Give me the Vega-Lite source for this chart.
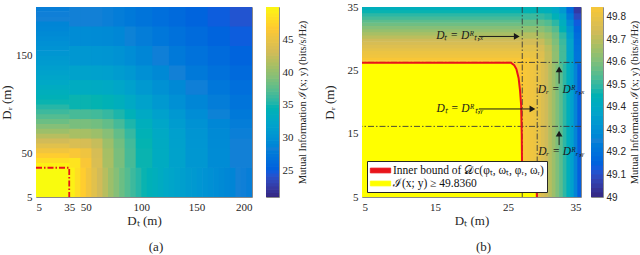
{
"$schema": "https://vega.github.io/schema/vega-lite/v6.json",
"padding": {"left": 0, "top": 0, "right": 0, "bottom": 0},
"background": "white",
"spacing": 14,
"resolve": {"scale": {"fill": "independent", "color": "independent"}, "legend": {"fill": "independent", "color": "independent"}},
"config": {
  "font": "Liberation Serif",
  "view": {"stroke": "#8a8a8a", "strokeWidth": 1},
  "axis": {"grid": false, "domain": false, "ticks": false, "labelOverlap": false, "labelFont": "Liberation Serif", "labelFontSize": 11, "labelColor": "#262626", "titleFont": "Liberation Serif", "titleFontSize": 13, "titleFontWeight": "normal", "titleColor": "#262626", "labelPadding": 4},
  "axisX": {"titlePadding": 2},
  "axisY": {"titlePadding": 2},
  "title": {"font": "Liberation Serif", "fontSize": 13, "fontWeight": "normal", "color": "#262626"}
},
"datasets": {
  "heatA": [
    {"x":5,"x2":35,"y":5,"y2":35,"v":50},
    {"x":35,"x2":40,"y":5,"y2":35,"v":49.3},{"x":40,"x2":45,"y":5,"y2":35,"v":48.0},{"x":45,"x2":50,"y":5,"y2":35,"v":46.7},{"x":50,"x2":55,"y":5,"y2":35,"v":45.4},{"x":55,"x2":60,"y":5,"y2":35,"v":44.1},{"x":60,"x2":65,"y":5,"y2":35,"v":42.8},{"x":65,"x2":70,"y":5,"y2":35,"v":41.5},{"x":70,"x2":75,"y":5,"y2":35,"v":40.2},{"x":75,"x2":80,"y":5,"y2":35,"v":39.0},{"x":80,"x2":85,"y":5,"y2":35,"v":37.9},{"x":85,"x2":90,"y":5,"y2":35,"v":36.9},{"x":90,"x2":95,"y":5,"y2":35,"v":36.0},{"x":95,"x2":100,"y":5,"y2":35,"v":35.2},{"x":100,"x2":105,"y":5,"y2":35,"v":34.5},{"x":105,"x2":110,"y":5,"y2":35,"v":33.9},{"x":110,"x2":115,"y":5,"y2":35,"v":33.4},{"x":115,"x2":120,"y":5,"y2":35,"v":32.9},{"x":120,"x2":125,"y":5,"y2":35,"v":32.4},{"x":125,"x2":130,"y":5,"y2":35,"v":32.0},{"x":130,"x2":135,"y":5,"y2":35,"v":31.6},{"x":135,"x2":140,"y":5,"y2":35,"v":31.2},{"x":140,"x2":145,"y":5,"y2":35,"v":30.8},{"x":145,"x2":150,"y":5,"y2":35,"v":30.5},{"x":150,"x2":155,"y":5,"y2":35,"v":30.2},{"x":155,"x2":160,"y":5,"y2":35,"v":29.9},{"x":160,"x2":165,"y":5,"y2":35,"v":29.6},{"x":165,"x2":170,"y":5,"y2":35,"v":29.3},{"x":170,"x2":175,"y":5,"y2":35,"v":29.0},{"x":175,"x2":180,"y":5,"y2":35,"v":28.7},{"x":180,"x2":185,"y":5,"y2":35,"v":28.5},{"x":185,"x2":190,"y":5,"y2":35,"v":28.2},{"x":190,"x2":195,"y":5,"y2":35,"v":28.0},{"x":195,"x2":200,"y":5,"y2":35,"v":27.8},
    {"y":35,"y2":40,"x":5,"x2":35,"v":49.3},{"y":40,"y2":45,"x":5,"x2":35,"v":48.0},{"y":45,"y2":50,"x":5,"x2":35,"v":46.7},{"y":50,"y2":55,"x":5,"x2":35,"v":45.4},{"y":55,"y2":60,"x":5,"x2":35,"v":44.1},{"y":60,"y2":65,"x":5,"x2":35,"v":42.8},{"y":65,"y2":70,"x":5,"x2":35,"v":41.5},{"y":70,"y2":75,"x":5,"x2":35,"v":40.2},{"y":75,"y2":80,"x":5,"x2":35,"v":39.0},{"y":80,"y2":85,"x":5,"x2":35,"v":37.9},{"y":85,"y2":90,"x":5,"x2":35,"v":36.9},{"y":90,"y2":95,"x":5,"x2":35,"v":36.0},{"y":95,"y2":100,"x":5,"x2":35,"v":35.2},{"y":100,"y2":105,"x":5,"x2":35,"v":34.5},{"y":105,"y2":110,"x":5,"x2":35,"v":33.9},{"y":110,"y2":115,"x":5,"x2":35,"v":33.4},{"y":115,"y2":120,"x":5,"x2":35,"v":32.9},{"y":120,"y2":125,"x":5,"x2":35,"v":32.4},{"y":125,"y2":130,"x":5,"x2":35,"v":32.0},{"y":130,"y2":135,"x":5,"x2":35,"v":31.6},{"y":135,"y2":140,"x":5,"x2":35,"v":31.2},{"y":140,"y2":145,"x":5,"x2":35,"v":30.8},{"y":145,"y2":150,"x":5,"x2":35,"v":30.5},{"y":150,"y2":155,"x":5,"x2":35,"v":30.2},{"y":155,"y2":160,"x":5,"x2":35,"v":29.9},{"y":160,"y2":165,"x":5,"x2":35,"v":29.6},{"y":165,"y2":170,"x":5,"x2":35,"v":29.3},{"y":170,"y2":175,"x":5,"x2":35,"v":29.0},{"y":175,"y2":180,"x":5,"x2":35,"v":28.7},{"y":180,"y2":185,"x":5,"x2":35,"v":28.5},{"y":185,"y2":190,"x":5,"x2":35,"v":28.2},{"y":190,"y2":195,"x":5,"x2":35,"v":28.0},{"y":195,"y2":200,"x":5,"x2":35,"v":27.8},
    {"y":35,"y2":45,"x":35,"x2":45,"v":48.4},{"y":35,"y2":45,"x":45,"x2":55,"v":46.0},{"y":35,"y2":45,"x":55,"x2":65,"v":43.4},{"y":35,"y2":45,"x":65,"x2":75,"v":40.8},{"y":35,"y2":45,"x":75,"x2":85,"v":38.5},{"y":35,"y2":45,"x":85,"x2":95,"v":36.4},{"y":35,"y2":45,"x":95,"x2":110,"v":34.5},{"y":35,"y2":45,"x":110,"x2":125,"v":32.9},{"y":35,"y2":45,"x":125,"x2":140,"v":31.6},{"y":35,"y2":45,"x":140,"x2":160,"v":30.3},{"y":35,"y2":45,"x":160,"x2":180,"v":29.2},{"y":35,"y2":45,"x":180,"x2":200,"v":28.1},
    {"y":45,"y2":55,"x":35,"x2":45,"v":46.0},{"y":45,"y2":55,"x":45,"x2":55,"v":45.2},{"y":45,"y2":55,"x":55,"x2":65,"v":43.2},{"y":45,"y2":55,"x":65,"x2":75,"v":40.7},{"y":45,"y2":55,"x":75,"x2":85,"v":38.5},{"y":45,"y2":55,"x":85,"x2":95,"v":36.4},{"y":45,"y2":55,"x":95,"x2":110,"v":34.5},{"y":45,"y2":55,"x":110,"x2":125,"v":32.9},{"y":45,"y2":55,"x":125,"x2":140,"v":31.6},{"y":45,"y2":55,"x":140,"x2":160,"v":30.3},{"y":45,"y2":55,"x":160,"x2":180,"v":29.2},{"y":45,"y2":55,"x":180,"x2":200,"v":28.1},
    {"y":55,"y2":65,"x":35,"x2":45,"v":43.4},{"y":55,"y2":65,"x":45,"x2":55,"v":43.2},{"y":55,"y2":65,"x":55,"x2":65,"v":42.2},{"y":55,"y2":65,"x":65,"x2":75,"v":40.2},{"y":55,"y2":65,"x":75,"x2":85,"v":38.2},{"y":55,"y2":65,"x":85,"x2":95,"v":36.2},{"y":55,"y2":65,"x":95,"x2":110,"v":34.4},{"y":55,"y2":65,"x":110,"x2":125,"v":32.8},{"y":55,"y2":65,"x":125,"x2":140,"v":31.5},{"y":55,"y2":65,"x":140,"x2":160,"v":30.2},{"y":55,"y2":65,"x":160,"x2":180,"v":29.1},{"y":55,"y2":65,"x":180,"x2":200,"v":28.1},
    {"y":65,"y2":75,"x":35,"x2":45,"v":40.8},{"y":65,"y2":75,"x":45,"x2":55,"v":40.7},{"y":65,"y2":75,"x":55,"x2":65,"v":40.2},{"y":65,"y2":75,"x":65,"x2":75,"v":39.1},{"y":65,"y2":75,"x":75,"x2":85,"v":37.5},{"y":65,"y2":75,"x":85,"x2":95,"v":35.7},{"y":65,"y2":75,"x":95,"x2":110,"v":34.0},{"y":65,"y2":75,"x":110,"x2":125,"v":32.6},{"y":65,"y2":75,"x":125,"x2":140,"v":31.3},{"y":65,"y2":75,"x":140,"x2":160,"v":30.1},{"y":65,"y2":75,"x":160,"x2":180,"v":29.0},{"y":65,"y2":75,"x":180,"x2":200,"v":27.9},
    {"y":75,"y2":85,"x":35,"x2":45,"v":38.5},{"y":75,"y2":85,"x":45,"x2":55,"v":38.5},{"y":75,"y2":85,"x":55,"x2":65,"v":38.2},{"y":75,"y2":85,"x":65,"x2":75,"v":37.5},{"y":75,"y2":85,"x":75,"x2":85,"v":36.3},{"y":75,"y2":85,"x":85,"x2":95,"v":34.9},{"y":75,"y2":85,"x":95,"x2":110,"v":33.4},{"y":75,"y2":85,"x":110,"x2":125,"v":32.1},{"y":75,"y2":85,"x":125,"x2":140,"v":30.9},{"y":75,"y2":85,"x":140,"x2":160,"v":29.8},{"y":75,"y2":85,"x":160,"x2":180,"v":28.7},{"y":75,"y2":85,"x":180,"x2":200,"v":27.7},
    {"y":85,"y2":95,"x":35,"x2":45,"v":36.4},{"y":85,"y2":95,"x":45,"x2":55,"v":36.4},{"y":85,"y2":95,"x":55,"x2":65,"v":36.2},{"y":85,"y2":95,"x":65,"x2":75,"v":35.7},{"y":85,"y2":95,"x":75,"x2":85,"v":34.9},{"y":85,"y2":95,"x":85,"x2":95,"v":33.8},{"y":85,"y2":95,"x":95,"x2":110,"v":32.6},{"y":85,"y2":95,"x":110,"x2":125,"v":31.4},{"y":85,"y2":95,"x":125,"x2":140,"v":30.4},{"y":85,"y2":95,"x":140,"x2":160,"v":29.3},{"y":85,"y2":95,"x":160,"x2":180,"v":28.3},{"y":85,"y2":95,"x":180,"x2":200,"v":27.3},
    {"y":95,"y2":110,"x":35,"x2":45,"v":34.5},{"y":95,"y2":110,"x":45,"x2":55,"v":34.5},{"y":95,"y2":110,"x":55,"x2":65,"v":34.4},{"y":95,"y2":110,"x":65,"x2":75,"v":34.0},{"y":95,"y2":110,"x":75,"x2":85,"v":33.4},{"y":95,"y2":110,"x":85,"x2":95,"v":32.6},{"y":95,"y2":110,"x":95,"x2":110,"v":31.6},{"y":95,"y2":110,"x":110,"x2":125,"v":30.5},{"y":95,"y2":110,"x":125,"x2":140,"v":29.6},{"y":95,"y2":110,"x":140,"x2":160,"v":28.6},{"y":95,"y2":110,"x":160,"x2":180,"v":27.7},{"y":95,"y2":110,"x":180,"x2":200,"v":26.8},
    {"y":110,"y2":125,"x":35,"x2":45,"v":32.9},{"y":110,"y2":125,"x":45,"x2":55,"v":32.9},{"y":110,"y2":125,"x":55,"x2":65,"v":32.8},{"y":110,"y2":125,"x":65,"x2":75,"v":32.6},{"y":110,"y2":125,"x":75,"x2":85,"v":32.1},{"y":110,"y2":125,"x":85,"x2":95,"v":31.4},{"y":110,"y2":125,"x":95,"x2":110,"v":30.5},{"y":110,"y2":125,"x":110,"x2":125,"v":29.7},{"y":110,"y2":125,"x":125,"x2":140,"v":28.9},{"y":110,"y2":125,"x":140,"x2":160,"v":28.0},{"y":110,"y2":125,"x":160,"x2":180,"v":27.1},{"y":110,"y2":125,"x":180,"x2":200,"v":26.3},
    {"y":125,"y2":140,"x":35,"x2":45,"v":31.6},{"y":125,"y2":140,"x":45,"x2":55,"v":31.6},{"y":125,"y2":140,"x":55,"x2":65,"v":31.5},{"y":125,"y2":140,"x":65,"x2":75,"v":31.3},{"y":125,"y2":140,"x":75,"x2":85,"v":30.9},{"y":125,"y2":140,"x":85,"x2":95,"v":30.4},{"y":125,"y2":140,"x":95,"x2":110,"v":29.6},{"y":125,"y2":140,"x":110,"x2":125,"v":28.9},{"y":125,"y2":140,"x":125,"x2":140,"v":28.1},{"y":125,"y2":140,"x":140,"x2":160,"v":27.3},{"y":125,"y2":140,"x":160,"x2":180,"v":26.5},{"y":125,"y2":140,"x":180,"x2":200,"v":25.8},
    {"y":140,"y2":160,"x":35,"x2":45,"v":30.3},{"y":140,"y2":160,"x":45,"x2":55,"v":30.3},{"y":140,"y2":160,"x":55,"x2":65,"v":30.2},{"y":140,"y2":160,"x":65,"x2":75,"v":30.1},{"y":140,"y2":160,"x":75,"x2":85,"v":29.8},{"y":140,"y2":160,"x":85,"x2":95,"v":29.3},{"y":140,"y2":160,"x":95,"x2":110,"v":28.6},{"y":140,"y2":160,"x":110,"x2":125,"v":28.0},{"y":140,"y2":160,"x":125,"x2":140,"v":27.3},{"y":140,"y2":160,"x":140,"x2":160,"v":26.6},{"y":140,"y2":160,"x":160,"x2":180,"v":25.9},{"y":140,"y2":160,"x":180,"x2":200,"v":25.2},
    {"y":160,"y2":180,"x":35,"x2":45,"v":29.2},{"y":160,"y2":180,"x":45,"x2":55,"v":29.2},{"y":160,"y2":180,"x":55,"x2":65,"v":29.1},{"y":160,"y2":180,"x":65,"x2":75,"v":29.0},{"y":160,"y2":180,"x":75,"x2":85,"v":28.7},{"y":160,"y2":180,"x":85,"x2":95,"v":28.3},{"y":160,"y2":180,"x":95,"x2":110,"v":27.7},{"y":160,"y2":180,"x":110,"x2":125,"v":27.1},{"y":160,"y2":180,"x":125,"x2":140,"v":26.5},{"y":160,"y2":180,"x":140,"x2":160,"v":25.9},{"y":160,"y2":180,"x":160,"x2":180,"v":25.2},{"y":160,"y2":180,"x":180,"x2":200,"v":24.6},
    {"y":180,"y2":200,"x":35,"x2":45,"v":28.1},{"y":180,"y2":200,"x":45,"x2":55,"v":28.1},{"y":180,"y2":200,"x":55,"x2":65,"v":28.1},{"y":180,"y2":200,"x":65,"x2":75,"v":27.9},{"y":180,"y2":200,"x":75,"x2":85,"v":27.7},{"y":180,"y2":200,"x":85,"x2":95,"v":27.3},{"y":180,"y2":200,"x":95,"x2":110,"v":26.8},{"y":180,"y2":200,"x":110,"x2":125,"v":26.3},{"y":180,"y2":200,"x":125,"x2":140,"v":25.8},{"y":180,"y2":200,"x":140,"x2":160,"v":25.2},{"y":180,"y2":200,"x":160,"x2":180,"v":24.6},{"y":180,"y2":200,"x":180,"x2":200,"v":24.0}
  ],
  "boxA": [{"i":0,"x":5,"y":35},{"i":1,"x":35,"y":35},{"i":2,"x":35,"y":5}],
  "barA": [{"v":20.5,"w":21},{"v":21,"w":21.5},{"v":21.5,"w":22},{"v":22,"w":22.5},{"v":22.5,"w":23},{"v":23,"w":23.5},{"v":23.5,"w":24},{"v":24,"w":24.5},{"v":24.5,"w":25},{"v":25,"w":25.5},{"v":25.5,"w":26},{"v":26,"w":26.5},{"v":26.5,"w":27},{"v":27,"w":27.5},{"v":27.5,"w":28},{"v":28,"w":28.5},{"v":28.5,"w":29},{"v":29,"w":29.5},{"v":29.5,"w":30},{"v":30,"w":30.5},{"v":30.5,"w":31},{"v":31,"w":31.5},{"v":31.5,"w":32},{"v":32,"w":32.5},{"v":32.5,"w":33},{"v":33,"w":33.5},{"v":33.5,"w":34},{"v":34,"w":34.5},{"v":34.5,"w":35},{"v":35,"w":35.5},{"v":35.5,"w":36},{"v":36,"w":36.5},{"v":36.5,"w":37},{"v":37,"w":37.5},{"v":37.5,"w":38},{"v":38,"w":38.5},{"v":38.5,"w":39},{"v":39,"w":39.5},{"v":39.5,"w":40},{"v":40,"w":40.5},{"v":40.5,"w":41},{"v":41,"w":41.5},{"v":41.5,"w":42},{"v":42,"w":42.5},{"v":42.5,"w":43},{"v":43,"w":43.5},{"v":43.5,"w":44},{"v":44,"w":44.5},{"v":44.5,"w":45},{"v":45,"w":45.5},{"v":45.5,"w":46},{"v":46,"w":46.5},{"v":46.5,"w":47},{"v":47,"w":47.5},{"v":47.5,"w":48},{"v":48,"w":48.5},{"v":48.5,"w":49},{"v":49,"w":49.5},{"v":49.5,"w":50}],
  "barB": [{"v":49.00,"w":49.02},{"v":49.02,"w":49.04},{"v":49.04,"w":49.06},{"v":49.06,"w":49.08},{"v":49.08,"w":49.10},{"v":49.10,"w":49.12},{"v":49.12,"w":49.14},{"v":49.14,"w":49.16},{"v":49.16,"w":49.18},{"v":49.18,"w":49.20},{"v":49.20,"w":49.22},{"v":49.22,"w":49.24},{"v":49.24,"w":49.26},{"v":49.26,"w":49.28},{"v":49.28,"w":49.30},{"v":49.30,"w":49.32},{"v":49.32,"w":49.34},{"v":49.34,"w":49.36},{"v":49.36,"w":49.38},{"v":49.38,"w":49.40},{"v":49.40,"w":49.42},{"v":49.42,"w":49.44},{"v":49.44,"w":49.46},{"v":49.46,"w":49.48},{"v":49.48,"w":49.50},{"v":49.50,"w":49.52},{"v":49.52,"w":49.54},{"v":49.54,"w":49.56},{"v":49.56,"w":49.58},{"v":49.58,"w":49.60},{"v":49.60,"w":49.62},{"v":49.62,"w":49.64},{"v":49.64,"w":49.66},{"v":49.66,"w":49.68},{"v":49.68,"w":49.70},{"v":49.70,"w":49.72},{"v":49.72,"w":49.74},{"v":49.74,"w":49.76},{"v":49.76,"w":49.78},{"v":49.78,"w":49.80},{"v":49.80,"w":49.82},{"v":49.82,"w":49.844}],
  "heatB": [
    {"x":5,"x2":27,"y":5,"y2":26,"v":49.844},
    {"x":5,"x2":27,"y":26,"y2":26.5,"v":49.84},{"x":5,"x2":27,"y":26.5,"y2":27,"v":49.83},{"x":5,"x2":27,"y":27,"y2":27.5,"v":49.81},{"x":5,"x2":27,"y":27.5,"y2":28,"v":49.80},{"x":5,"x2":27,"y":28,"y2":28.5,"v":49.78},{"x":5,"x2":27,"y":28.5,"y2":29,"v":49.76},{"x":5,"x2":27,"y":29,"y2":29.5,"v":49.74},{"x":5,"x2":27,"y":29.5,"y2":30,"v":49.72},{"x":5,"x2":27,"y":30,"y2":30.5,"v":49.69},{"x":5,"x2":27,"y":30.5,"y2":31,"v":49.66},{"x":5,"x2":27,"y":31,"y2":31.5,"v":49.63},{"x":5,"x2":27,"y":31.5,"y2":32,"v":49.60},{"x":5,"x2":27,"y":32,"y2":32.5,"v":49.57},{"x":5,"x2":27,"y":32.5,"y2":33,"v":49.54},{"x":5,"x2":27,"y":33,"y2":33.5,"v":49.51},{"x":5,"x2":27,"y":33.5,"y2":34,"v":49.48},{"x":5,"x2":27,"y":34,"y2":34.5,"v":49.45},{"x":5,"x2":27,"y":34.5,"y2":35,"v":49.42},
    {"y":5,"y2":26,"x":27,"x2":27.5,"v":49.83},{"y":5,"y2":26,"x":27.5,"x2":28,"v":49.82},{"y":5,"y2":26,"x":28,"x2":28.5,"v":49.81},{"y":5,"y2":26,"x":28.5,"x2":29,"v":49.80},{"y":5,"y2":26,"x":29,"x2":29.5,"v":49.78},{"y":5,"y2":26,"x":29.5,"x2":30,"v":49.75},{"y":5,"y2":26,"x":30,"x2":30.5,"v":49.72},{"y":5,"y2":26,"x":30.5,"x2":31,"v":49.68},{"y":5,"y2":26,"x":31,"x2":31.5,"v":49.64},{"y":5,"y2":26,"x":31.5,"x2":32,"v":49.59},{"y":5,"y2":26,"x":32,"x2":32.5,"v":49.54},{"y":5,"y2":26,"x":32.5,"x2":33,"v":49.48},{"y":5,"y2":26,"x":33,"x2":33.5,"v":49.42},{"y":5,"y2":26,"x":33.5,"x2":34,"v":49.35},{"y":5,"y2":26,"x":34,"x2":34.5,"v":49.25},{"y":5,"y2":26,"x":34.5,"x2":35,"v":49.13},
    {"y":26,"y2":27,"x":27,"x2":28,"v":49.83},{"y":26,"y2":27,"x":28,"x2":29,"v":49.81},{"y":26,"y2":27,"x":29,"x2":30,"v":49.77},{"y":26,"y2":27,"x":30,"x2":31,"v":49.70},{"y":26,"y2":27,"x":31,"x2":32,"v":49.62},{"y":26,"y2":27,"x":32,"x2":33,"v":49.51},{"y":26,"y2":27,"x":33,"x2":34,"v":49.37},{"y":26,"y2":27,"x":34,"x2":35,"v":49.20},
    {"y":27,"y2":28,"x":27,"x2":28,"v":49.80},{"y":27,"y2":28,"x":28,"x2":29,"v":49.79},{"y":27,"y2":28,"x":29,"x2":30,"v":49.76},{"y":27,"y2":28,"x":30,"x2":31,"v":49.70},{"y":27,"y2":28,"x":31,"x2":32,"v":49.62},{"y":27,"y2":28,"x":32,"x2":33,"v":49.51},{"y":27,"y2":28,"x":33,"x2":34,"v":49.37},{"y":27,"y2":28,"x":34,"x2":35,"v":49.20},
    {"y":28,"y2":29,"x":27,"x2":28,"v":49.77},{"y":28,"y2":29,"x":28,"x2":29,"v":49.77},{"y":28,"y2":29,"x":29,"x2":30,"v":49.74},{"y":28,"y2":29,"x":30,"x2":31,"v":49.69},{"y":28,"y2":29,"x":31,"x2":32,"v":49.61},{"y":28,"y2":29,"x":32,"x2":33,"v":49.51},{"y":28,"y2":29,"x":33,"x2":34,"v":49.36},{"y":28,"y2":29,"x":34,"x2":35,"v":49.19},
    {"y":29,"y2":30,"x":27,"x2":28,"v":49.73},{"y":29,"y2":30,"x":28,"x2":29,"v":49.73},{"y":29,"y2":30,"x":29,"x2":30,"v":49.71},{"y":29,"y2":30,"x":30,"x2":31,"v":49.66},{"y":29,"y2":30,"x":31,"x2":32,"v":49.59},{"y":29,"y2":30,"x":32,"x2":33,"v":49.50},{"y":29,"y2":30,"x":33,"x2":34,"v":49.36},{"y":29,"y2":30,"x":34,"x2":35,"v":49.18},
    {"y":30,"y2":31,"x":27,"x2":28,"v":49.68},{"y":30,"y2":31,"x":28,"x2":29,"v":49.68},{"y":30,"y2":31,"x":29,"x2":30,"v":49.66},{"y":30,"y2":31,"x":30,"x2":31,"v":49.63},{"y":30,"y2":31,"x":31,"x2":32,"v":49.57},{"y":30,"y2":31,"x":32,"x2":33,"v":49.48},{"y":30,"y2":31,"x":33,"x2":34,"v":49.34},{"y":30,"y2":31,"x":34,"x2":35,"v":49.17},
    {"y":31,"y2":32,"x":27,"x2":28,"v":49.62},{"y":31,"y2":32,"x":28,"x2":29,"v":49.62},{"y":31,"y2":32,"x":29,"x2":30,"v":49.61},{"y":31,"y2":32,"x":30,"x2":31,"v":49.58},{"y":31,"y2":32,"x":31,"x2":32,"v":49.53},{"y":31,"y2":32,"x":32,"x2":33,"v":49.44},{"y":31,"y2":32,"x":33,"x2":34,"v":49.31},{"y":31,"y2":32,"x":34,"x2":35,"v":49.15},
    {"y":32,"y2":33,"x":27,"x2":28,"v":49.56},{"y":32,"y2":33,"x":28,"x2":29,"v":49.56},{"y":32,"y2":33,"x":29,"x2":30,"v":49.55},{"y":32,"y2":33,"x":30,"x2":31,"v":49.53},{"y":32,"y2":33,"x":31,"x2":32,"v":49.48},{"y":32,"y2":33,"x":32,"x2":33,"v":49.41},{"y":32,"y2":33,"x":33,"x2":34,"v":49.27},{"y":32,"y2":33,"x":34,"x2":35,"v":49.12},
    {"y":33,"y2":34,"x":27,"x2":28,"v":49.50},{"y":33,"y2":34,"x":28,"x2":29,"v":49.50},{"y":33,"y2":34,"x":29,"x2":30,"v":49.49},{"y":33,"y2":34,"x":30,"x2":31,"v":49.47},{"y":33,"y2":34,"x":31,"x2":32,"v":49.43},{"y":33,"y2":34,"x":32,"x2":33,"v":49.37},{"y":33,"y2":34,"x":33,"x2":34,"v":49.22},{"y":33,"y2":34,"x":34,"x2":35,"v":49.08},
    {"y":34,"y2":35,"x":27,"x2":28,"v":49.44},{"y":34,"y2":35,"x":28,"x2":29,"v":49.44},{"y":34,"y2":35,"x":29,"x2":30,"v":49.43},{"y":34,"y2":35,"x":30,"x2":31,"v":49.42},{"y":34,"y2":35,"x":31,"x2":32,"v":49.38},{"y":34,"y2":35,"x":32,"x2":33,"v":49.32},{"y":34,"y2":35,"x":33,"x2":34,"v":49.17},{"y":34,"y2":35,"x":34,"x2":35,"v":49.04}
  ],
  "bound": [
    {"i":0,"x":5,"y":26.2},{"i":1,"x":25.4,"y":26.2},{"i":2,"x":25.85,"y":25.8},{"i":3,"x":26.15,"y":25.2},{"i":4,"x":26.45,"y":23.8},{"i":5,"x":26.65,"y":21.8},{"i":6,"x":26.8,"y":19.5},{"i":7,"x":26.88,"y":15.0},{"i":8,"x":26.92,"y":10.3},{"i":9,"x":27.15,"y":9.95},{"i":10,"x":28.3,"y":9.8},{"i":11,"x":28.65,"y":9.4},{"i":12,"x":28.85,"y":8.8},{"i":13,"x":28.93,"y":7.9},{"i":14,"x":28.95,"y":5}
  ],
  "vlines": [{"x":26.95},{"x":29.0}],
  "hlines": [{"y":26.25},{"y":16.15}],
  "shafts": [
    {"x":21.0,"x2":26.2,"y":30.35,"y2":30.35},
    {"x":21.0,"x2":28.35,"y":18.9,"y2":18.9},
    {"x":32.0,"x2":32.0,"y":22.9,"y2":25.15},
    {"x":32.0,"x2":32.0,"y":13.2,"y2":15.0}
  ],
  "heads": [
    {"x":26.2,"y":30.35,"s":"triangle-right"},
    {"x":28.35,"y":18.9,"s":"triangle-right"},
    {"x":32.0,"y":25.15,"s":"triangle-up"},
    {"x":32.0,"y":15.0,"s":"triangle-up"}
  ],
  "notes": [
    {"x":18.4,"y":30.35,"t":"Dₜ = Dᴿₜ,ₓ"},
    {"x":18.4,"y":18.9,"t":"Dₜ = Dᴿₜ,ᵧ"},
    {"x":32.3,"y":21.85,"t":"Dᵣ = Dᴿᵣ,ₓ"},
    {"x":32.3,"y":12.1,"t":"Dᵣ = Dᴿᵣ,ᵧ"}
  ]
},
"hconcat": [
  {
    "title": {"text": "(a)", "orient": "bottom", "anchor": "middle", "offset": 13, "dx": 2},
    "spacing": 14,
    "bounds": "flush",
    "resolve": {"scale": {"color": "independent"}, "legend": {"color": "independent"}},
    "hconcat": [
      {
        "width": 216, "height": 190,
        "layer": [
          {
            "data": {"name": "heatA"},
            "mark": {"type": "rect", "x2Offset": 0.7, "y2Offset": -0.7, "clip": true},
            "encoding": {
              "x": {"field": "x", "type": "quantitative", "scale": {"domain": [5, 200], "nice": false, "zero": false}, "axis": {"values": [5, 35, 50, 100, 150, 200], "labelOverlap": false, "title": "Dₜ (m)"}},
              "x2": {"field": "x2"},
              "y": {"field": "y", "type": "quantitative", "scale": {"domain": [5, 200], "nice": false, "zero": false}, "axis": {"values": [5, 35, 50, 100, 150, 200], "labelOverlap": false, "title": "Dᵣ (m)"}},
              "y2": {"field": "y2"},
              "fill": {
                "field": "v", "type": "quantitative", "legend": null,
                "scale": {"domain": [20.9, 24.5375, 28.175, 31.8125, 35.45, 39.0875, 42.725, 46.3625, 50.0], "range": ["#352a87", "#0f5cdd", "#1481d6", "#06a4ca", "#2eb7a4", "#87bf77", "#d1bb59", "#fec832", "#f9fb0e"]}
              }
            }
          },
          {
            "data": {"name": "boxA"},
            "mark": {"type": "line", "color": "#e8141b", "strokeWidth": 1.8, "strokeDash": [6, 2, 1.5, 2]},
            "encoding": {
              "x": {"field": "x", "type": "quantitative"},
              "y": {"field": "y", "type": "quantitative"},
              "order": {"field": "i", "type": "quantitative"}
            }
          }
        ]
      },
      {
        "width": 13, "height": 190,
        "data": {"name": "barA"},
        "mark": {"type": "rect", "y2Offset": -0.7, "clip": true},
        "encoding": {
          "y": {"field": "v", "type": "quantitative",
            "scale": {"domain": [20.9, 50], "nice": false, "zero": false},
            "axis": {"orient": "right", "values": [25, 30, 35, 40, 45], "labelOverlap": false, "labelPadding": 3, "labelFontSize": 11,
              "title": "Mutual Information ℐ(x; y) (bits/s/Hz)", "titleAngle": 270, "titleBaseline": "top", "titleFontSize": 10.5, "titlePadding": 4}},
          "y2": {"field": "w"},
          "fill": {
            "field": "v", "type": "quantitative", "legend": null,
            "scale": {"domain": [20.9, 24.5375, 28.175, 31.8125, 35.45, 39.0875, 42.725, 46.3625, 50.0], "range": ["#352a87", "#0f5cdd", "#1481d6", "#06a4ca", "#2eb7a4", "#87bf77", "#d1bb59", "#fec832", "#f9fb0e"]}
          }
        }
      }
    ]
  },
  {
    "title": {"text": "(b)", "orient": "bottom", "anchor": "middle", "offset": 13, "dx": 2},
    "spacing": 10,
    "bounds": "flush",
    "resolve": {"scale": {"color": "independent"}, "legend": {"color": "independent"}},
    "hconcat": [
      {
        "width": 219, "height": 190,
        "layer": [
          {
            "data": {"name": "heatB"},
            "mark": {"type": "rect", "x2Offset": 0.7, "y2Offset": -0.7, "clip": true},
            "encoding": {
              "x": {"field": "x", "type": "quantitative", "scale": {"domain": [5, 35], "nice": false, "zero": false}, "axis": {"values": [5, 10, 15, 20, 25, 30, 35], "labelOverlap": false, "title": "Dₜ (m)"}},
              "x2": {"field": "x2"},
              "y": {"field": "y", "type": "quantitative", "scale": {"domain": [5, 35], "nice": false, "zero": false}, "axis": {"values": [5, 10, 15, 20, 25, 30, 35], "labelOverlap": false, "title": "Dᵣ (m)", "titlePadding": 11}},
              "y2": {"field": "y2"},
              "fill": {
                "field": "v", "type": "quantitative", "legend": null,
                "scale": {"domain": [49, 49.12057, 49.24114, 49.36171, 49.48229, 49.60286, 49.72343, 49.844], "range": ["#352a87", "#0f5cdd", "#1481d6", "#06a4ca", "#2eb7a4", "#87bf77", "#d1bb59", "#fec832"]}
              }
            }
          },
          {
            "data": {"name": "bound"},
            "transform": [{"filter": "datum.i >= 1"}],
            "mark": {"type": "area", "orient": "horizontal", "opacity": 1},
            "encoding": {
              "y": {"field": "y", "type": "quantitative"},
              "x": {"field": "x", "type": "quantitative"},
              "x2": {"datum": 5},
              "color": {
                "datum": "ℐ(x; y) ≥ 49.8360", "type": "nominal",
                "scale": {"domain": ["Inner bound of 𝒟c(φₜ, ωₜ, φᵣ, ωᵣ)", "ℐ(x; y) ≥ 49.8360"], "range": ["#e8141b", "#ffff00"]},
                "legend": {
                  "orient": "bottom-left", "offset": 5, "title": null, "padding": 3, "fillColor": "white", "strokeColor": "#262626",
                  "labelFont": "Liberation Serif", "labelFontSize": 11.5, "labelColor": "#111111", "labelLimit": 400, "labelOffset": 6,
                  "symbolSize": 144, "symbolOffset": 4, "rowPadding": 1,
                  "symbolType": "M-1.7,-0.4H1.7V0.4H-1.7Z", "symbolStrokeColor": "#262626", "symbolStrokeWidth": 0.8, "symbolOpacity": 1
                }
              }
            }
          },
          {
            "data": {"name": "vlines"},
            "mark": {"type": "rule", "color": "#3a3a3a", "strokeWidth": 0.9, "strokeDash": [6, 2, 1.5, 2]},
            "encoding": {"x": {"field": "x", "type": "quantitative"}}
          },
          {
            "data": {"name": "hlines"},
            "mark": {"type": "rule", "color": "#3a3a3a", "strokeWidth": 0.9, "strokeDash": [6, 2, 1.5, 2]},
            "encoding": {"y": {"field": "y", "type": "quantitative"}}
          },
          {
            "data": {"name": "bound"},
            "mark": {"type": "line", "strokeWidth": 2},
            "encoding": {
              "x": {"field": "x", "type": "quantitative"},
              "y": {"field": "y", "type": "quantitative"},
              "order": {"field": "i", "type": "quantitative"},
              "color": {"datum": "Inner bound of 𝒟c(φₜ, ωₜ, φᵣ, ωᵣ)", "type": "nominal"}
            }
          },
          {
            "data": {"name": "shafts"},
            "mark": {"type": "rule", "color": "#1a1a1a", "strokeWidth": 1},
            "encoding": {
              "x": {"field": "x", "type": "quantitative"}, "x2": {"field": "x2"},
              "y": {"field": "y", "type": "quantitative"}, "y2": {"field": "y2"}
            }
          },
          {
            "data": {"name": "heads"},
            "mark": {"type": "point", "filled": true, "color": "#1a1a1a", "size": 45, "opacity": 1},
            "encoding": {
              "x": {"field": "x", "type": "quantitative"},
              "y": {"field": "y", "type": "quantitative"},
              "shape": {"field": "s", "type": "nominal", "scale": null}
            }
          },
          {
            "data": {"name": "notes"},
            "mark": {"type": "text", "font": "Liberation Serif", "fontSize": 11.5, "fontStyle": "italic", "color": "#1a1a1a", "align": "center", "baseline": "middle"},
            "encoding": {
              "x": {"field": "x", "type": "quantitative"},
              "y": {"field": "y", "type": "quantitative"},
              "text": {"field": "t"}
            }
          }
        ]
      },
      {
        "width": 12, "height": 190,
        "data": {"name": "barB"},
        "mark": {"type": "rect", "y2Offset": -0.7, "clip": true},
        "encoding": {
          "y": {"field": "v", "type": "quantitative",
            "scale": {"domain": [49, 49.844], "nice": false, "zero": false},
            "axis": {"orient": "right", "values": [49, 49.1, 49.2, 49.3, 49.4, 49.5, 49.6, 49.7, 49.8], "labelOverlap": false, "format": ".1~f", "labelPadding": 3, "labelFont": "Liberation Sans", "labelFontSize": 10,
              "title": "Mutual Information ℐ(x; y) (bits/s/Hz)", "titleAngle": 270, "titleBaseline": "top", "titleFontSize": 10.5, "titlePadding": 4}},
          "y2": {"field": "w"},
          "fill": {
            "field": "v", "type": "quantitative", "legend": null,
            "scale": {"domain": [49, 49.12057, 49.24114, 49.36171, 49.48229, 49.60286, 49.72343, 49.844], "range": ["#352a87", "#0f5cdd", "#1481d6", "#06a4ca", "#2eb7a4", "#87bf77", "#d1bb59", "#fec832"]}
          }
        }
      }
    ]
  }
]
}
